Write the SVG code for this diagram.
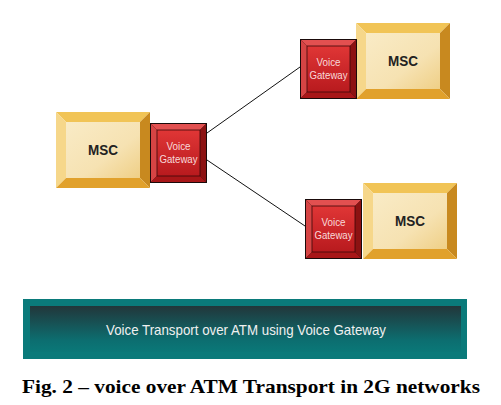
<svg xmlns="http://www.w3.org/2000/svg" width="501" height="405" viewBox="0 0 501 405">
<defs>
<linearGradient id="gFace" x1="0" y1="0" x2="1" y2="1">
<stop offset="0" stop-color="#f9ebc6"/><stop offset="0.6" stop-color="#f6e2b2"/><stop offset="1" stop-color="#efcf86"/>
</linearGradient>
<linearGradient id="rFace" x1="0" y1="0" x2="0" y2="1">
<stop offset="0" stop-color="#e03636"/><stop offset="1" stop-color="#b81a1e"/>
</linearGradient>
<linearGradient id="bFace" x1="0" y1="0" x2="0" y2="1">
<stop offset="0" stop-color="#22363a"/><stop offset="0.75" stop-color="#0c6e70"/><stop offset="1" stop-color="#0a7878"/>
</linearGradient>
<g id="msc">
<polygon points="0,0 94,0 84,10 10,10" fill="#f1c456"/>
<polygon points="0,0 10,10 10,66 0,76" fill="#f6d78a"/>
<polygon points="94,0 94,76 84,66 84,10" fill="#c8891f"/>
<polygon points="0,76 94,76 84,66 10,66" fill="#e1a12c"/>
<rect x="10" y="10" width="74" height="56" fill="url(#gFace)"/>
</g>
<g id="gw">
<rect x="0" y="0" width="57" height="60" fill="#1a0a0a"/>
<polygon points="1,1 56,1 50,7 7,7" fill="#e25050"/>
<polygon points="1,1 7,7 7,53 1,59" fill="#d64444"/>
<polygon points="56,1 56,59 50,53 50,7" fill="#8c1212"/>
<polygon points="1,59 56,59 50,53 7,53" fill="#a81618"/>
<rect x="7" y="7" width="43" height="46" fill="url(#rFace)" stroke="#3a0808" stroke-width="0.8"/>
</g>
</defs>
<style>
.lbl{font-family:"Liberation Sans",Arial,sans-serif;font-weight:bold;font-size:15px;fill:#222;text-anchor:middle}
.gwt{font-family:"Liberation Sans",Arial,sans-serif;font-size:10.5px;fill:#f8dada;text-anchor:middle}
.conn{stroke:#111;stroke-width:1;fill:none}
</style>
<rect width="501" height="405" fill="#ffffff"/>
<g id="connectors">
<line class="conn" x1="207" y1="133" x2="300" y2="67"/>
<line class="conn" x1="207" y1="160" x2="305" y2="226"/>
</g>
<g id="msc-left">
<use href="#msc" x="56" y="112"/>
<text class="lbl" x="103" y="155" textLength="30" lengthAdjust="spacingAndGlyphs">MSC</text>
</g>
<g id="gw-left">
<use href="#gw" x="150" y="123"/>
<text class="gwt" x="178.5" y="150" textLength="24" lengthAdjust="spacingAndGlyphs">Voice</text>
<text class="gwt" x="178.5" y="163" textLength="38" lengthAdjust="spacingAndGlyphs">Gateway</text>
</g>
<g id="msc-top">
<use href="#msc" x="356" y="23"/>
<text class="lbl" x="403" y="66" textLength="30" lengthAdjust="spacingAndGlyphs">MSC</text>
</g>
<g id="gw-top">
<use href="#gw" x="300" y="39"/>
<text class="gwt" x="328.5" y="66" textLength="24" lengthAdjust="spacingAndGlyphs">Voice</text>
<text class="gwt" x="328.5" y="79" textLength="38" lengthAdjust="spacingAndGlyphs">Gateway</text>
</g>
<g id="msc-bottom">
<use href="#msc" x="363" y="183"/>
<text class="lbl" x="410" y="226" textLength="30" lengthAdjust="spacingAndGlyphs">MSC</text>
</g>
<g id="gw-bottom">
<use href="#gw" x="305" y="199"/>
<text class="gwt" x="333.5" y="226" textLength="24" lengthAdjust="spacingAndGlyphs">Voice</text>
<text class="gwt" x="333.5" y="239" textLength="38" lengthAdjust="spacingAndGlyphs">Gateway</text>
</g>
<g id="banner">
<rect x="23" y="299" width="444" height="60" fill="#0a7a7a"/>
<rect x="30" y="306" width="431" height="46" fill="url(#bFace)"/>
<text x="246" y="335" font-family="'Liberation Sans',Arial,sans-serif" font-size="14.5" fill="#f0f0f0" text-anchor="middle" textLength="280" lengthAdjust="spacingAndGlyphs">Voice Transport over ATM using Voice Gateway</text>
</g>
<text x="251" y="393" font-family="'Liberation Serif','Times New Roman',serif" font-weight="bold" font-size="19" fill="#000" text-anchor="middle" textLength="458" lengthAdjust="spacingAndGlyphs">Fig. 2 – voice over ATM Transport in 2G networks</text>
</svg>
